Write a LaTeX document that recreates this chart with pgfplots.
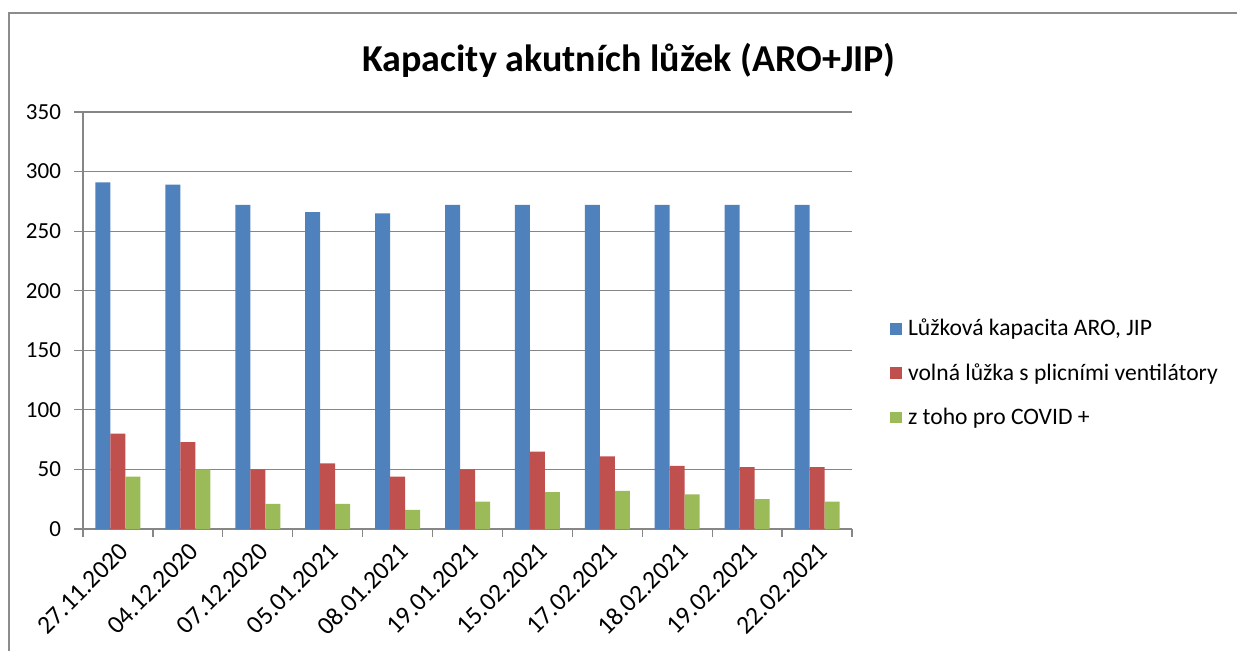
\documentclass[border=0pt]{standalone}
\usepackage{pgfplots}
\pgfplotsset{compat=1.18}
\usepackage{fontspec}
\setmainfont{Carlito}
\definecolor{cblue}{HTML}{4F81BD}
\definecolor{cred}{HTML}{C0504D}
\definecolor{cgreen}{HTML}{9BBB59}
\definecolor{cgrid}{HTML}{868686}
\definecolor{cframe}{HTML}{8C8C8C}
\begin{document}
\begin{tikzpicture}
\useasboundingbox (0,0) rectangle (618.5pt,325pt);
\draw[cframe, line width=1pt] (4.5pt,-5pt) -- (4.5pt,318.5pt) -- (625pt,318.5pt);
\node[font=\bfseries\fontsize{19}{22}\selectfont] at (314.5pt,295pt) {Kapacity akutních lůžek (ARO+JIP)};
\begin{axis}[
  at={(41.5pt,60.5pt)}, anchor=south west,
  scale only axis, width=384.5pt, height=208.5pt,
  ybar=0pt, bar width=7.5pt,
  xmin=-0.5, xmax=10.5, ymin=0, ymax=350,
  ytick={0,50,...,350},
  xtick={0,...,10},
  xticklabels={27.11.2020,04.12.2020,07.12.2020,05.01.2021,08.01.2021,19.01.2021,15.02.2021,17.02.2021,18.02.2021,19.02.2021,22.02.2021},
  x tick label style={rotate=45, anchor=north east, font=\fontsize{12.8}{14}\selectfont, inner sep=1pt},
  y tick label style={font=\fontsize{11.5}{13}\selectfont, xshift=-3pt},
  /pgf/number format/assume math mode=true,
  xtick style={draw=none},
  extra x ticks={-0.5,0.5,...,10.5},
  extra x tick labels={},
  extra x tick style={xtick style={draw=cgrid, line width=0.6pt}, major tick length=4pt, tick align=outside, grid=none},
  ytick style={draw=cgrid, line width=0.6pt},
  major tick length=4.5pt, tick align=outside,
  ymajorgrids, grid style={cgrid, line width=0.6pt},
  axis x line*=bottom, axis y line*=left,
  axis line style={cgrid, line width=0.6pt, -},
  legend style={at={(1.0495,0.374)}, anchor=west, draw=none, fill=none,
    font=\fontsize{11.8}{13}\selectfont, row sep=8.3pt, inner sep=0pt,
    cells={anchor=west}},
  legend image code/.code={\fill[#1] (0pt,-2.9pt) rectangle (5.8pt,2.9pt);},
  every axis legend/.append style={nodes={inner xsep=3pt}},
]
\addplot[fill=cblue, draw=none] coordinates {(0,291) (1,289) (2,272) (3,266) (4,265) (5,272) (6,272) (7,272) (8,272) (9,272) (10,272)};
\addplot[fill=cred, draw=none] coordinates {(0,80) (1,73) (2,50) (3,55) (4,44) (5,50) (6,65) (7,61) (8,53) (9,52) (10,52)};
\addplot[fill=cgreen, draw=none] coordinates {(0,44) (1,50) (2,21) (3,21) (4,16) (5,23) (6,31) (7,32) (8,29) (9,25) (10,23)};
\legend{{Lůžková kapacita ARO, JIP},{volná lůžka s plicními ventilátory},{z toho pro COVID +}}
\end{axis}
\end{tikzpicture}
\end{document}
